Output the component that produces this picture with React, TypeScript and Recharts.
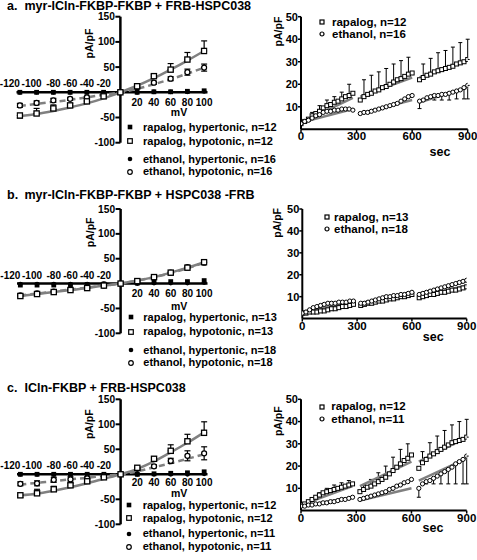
import React from "react";
import {
  ComposedChart,
  Line,
  XAxis,
  YAxis,
  ReferenceLine,
  ReferenceDot,
  ErrorBar,
  Label,
} from "recharts";

const FONT = '"Liberation Sans", Arial, Helvetica, sans-serif';
const BLACK = "#000000";
const GRAY = "#808080";

// ---------- I/V curves (left column) ----------
const MV = [-120, -100, -80, -60, -40, -20, 0, 20, 40, 60, 80, 100];
const MV_NEG_LABELS = [-120, -100, -80, -60, -40, -20];
const MV_POS_LABELS = [20, 40, 60, 80, 100];
const IV_Y_TICKS = [150, 100, 50, -50, -100];
const IV_LEGEND = [
  "rapalog, hypertonic",
  "rapalog, hypotonic",
  "ethanol, hypertonic",
  "ethanol, hypotonic",
];

type Err = number | [number, number] | null;

// panel a
const A_RAP_HYPER = [0, 0, 0, 0, 0, 0, 0, 0, 1, 1, 2, 3];
const A_RAP_HYPO = [-46, -42, -32, -26, -18, -8, 0, 12, 32, 45, 65, 82];
const A_RAP_HYPO_ERR: Err[] = [[5, 0], [0, 10], [0, 7], [0, 4], [0, 2], null, null, null, [0, 3], [0, 12], [0, 14], [0, 20]];
const A_ETH_HYPER = [0, 0, 0, 0, 0, 0, 0, 0, 1, 1, 1, 2];
const A_ETH_HYPO = [-26, -21, -16, -13, -10, -5, 0, 10, 19, 27, 40, 49];
const A_ETH_HYPO_ERR: Err[] = [4, 4, 4, 3, 2, null, null, 2, 3, 4, 6, 7];
const A_FIT_RAP = [-47, -43, -37, -30, -22, -12, 0, 13, 28, 45, 63, 82];
const A_FIT_ETH = [-27, -23, -19, -15, -10, -5, 0, 7, 16, 26, 37, 49];
const A_N = [12, 12, 16, 16];

// panel b
const B_RAP_HYPER = [-3, -3, -3, -3, -2, -1, 0, 1, 3, 4, 4, 6];
const B_RAP_HYPO = [-25, -21, -17, -13, -9, -4, 0, 5, 13, 22, 32, 43];
const B_RAP_HYPO_ERR: Err[] = [null, null, null, null, null, null, null, null, null, null, null, [0, 3]];
const B_ETH_HYPER = [-1, -1, -1, -1, -1, 0, 0, 0, 1, 1, 1, 2];
const B_ETH_HYPO = [-24, -20, -16, -12, -8, -4, 0, 5, 13, 22, 33, 42];
const B_ETH_HYPO_ERR: Err[] = [null, null, null, null, null, null, null, null, null, null, null, null];
const B_FIT_RAP = [-25, -21, -17, -13, -9, -4, 0, 6, 13, 22, 32, 43];
const B_FIT_ETH = [-24, -20, -16, -12, -8, -4, 0, 6, 13, 21, 31, 42];
const B_N = [13, 13, 18, 18];

// panel c
const C_RAP_HYPER = [0, 0, 0, 0, 0, 0, 0, 0, 1, 2, 3, 5];
const C_RAP_HYPO = [-42, -38, -30, -22, -14, -6, 0, 13, 31, 47, 66, 83];
const C_RAP_HYPO_ERR: Err[] = [[4, 0], [0, 8], [0, 6], [0, 4], [0, 2], null, null, null, [0, 4], [0, 12], [0, 14], [0, 22]];
const C_ETH_HYPER = [0, 0, 0, 0, 0, 0, 0, 0, 0, 0, 0, 1];
const C_ETH_HYPO = [-19, -18, -11, -10, -8, -4, 0, 11, 16, 27, 37, 42];
const C_ETH_HYPO_ERR: Err[] = [4, 5, 5, 5, 3, null, null, 2, 3, 5, 10, 13];
const C_FIT_RAP = [-42, -39, -33, -26, -18, -9, 0, 11, 26, 44, 63, 84];
const C_FIT_ETH = [-21, -17, -14, -10, -7, -3, 0, 6, 14, 22, 31, 40];
const C_N = [12, 12, 11, 11];

// ---------- time courses (right column) ----------
const SEC = [
  0, 20, 40, 60, 80, 100, 120, 140, 160, 180, 200, 220, 240, 260, 280,
  320, 340, 360, 380, 400, 420, 440, 460, 480, 500, 520, 540, 560, 580, 600,
  640, 660, 680, 700, 720, 740, 760, 780, 800, 820, 840, 860, 880, 900,
];
const SEG_BOUNDS = [[0, 14], [15, 29], [30, 43]];
const SEC_TICKS = [0, 300, 600, 900];
const PA_TICKS = [10, 20, 30, 40, 50];

const A_RAP_T = [
  2.5, 3.5, 4.5, 6, 7, 8, 9.5, 10.5, 11, 12, 12.5, 13.5, 14.5, 15, 16,
  13, 14.5, 15.5, 16, 17, 17.5, 18.5, 19, 20, 21, 22, 22.5, 23.5, 24.5, 25,
  22, 23, 24, 24.5, 25.5, 26, 26.5, 27, 27.5, 28, 29, 29.5, 30, 31,
];
const A_RAP_T_ERR = [
  null, null, null, 1.5, null, 2.5, null, 2.5, null, 2.5, null, 3, null, 5, null,
  null, 7.5, null, 8, null, 8, null, 8, null, 8, null, 8, null, 7.5, null,
  null, 6, null, 7, null, 8, null, 8, null, 8.5, null, 9, null, 9,
];
const A_ETH_T = [
  2.5, 3.5, 4, 5, 6, 6.5, 7.5, 8, 8, 8.5, 8.5, 9, 9, 9, 8.5,
  7, 7.5, 7.5, 8, 8.5, 9, 9.5, 10, 10.5, 11, 11.5, 12.5, 13.5, 14.5, 15,
  12.5, 13, 14, 14.5, 15, 15, 15.5, 15.5, 16, 16.5, 17, 17.5, 18.5, 19.5,
];
const A_ETH_T_ERR = [
  null, null, null, null, null, null, null, null, null, null, null, null, null, null, null,
  null, null, null, null, null, null, null, null, null, null, null, null, null, null, null,
  3.3, null, 1, null, 2, null, 2.5, null, 3, null, 3.5, null, 5, 6,
];
const A_FIT_RAP_T = [[3, 14], [14.5, 23], [23, 30.5]];
const A_FIT_ETH_T = [[3, 9], [7, 13], [12, 18.5]];

const B_RAP_T = [
  2.5, 2.5, 3, 3, 3, 3.5, 3.5, 4, 4.5, 4.5, 5, 5.5, 5.5, 6, 6.5,
  6, 6.5, 7, 7, 7.5, 8, 8, 8.5, 9, 9, 9.5, 10, 10, 10.5, 11,
  9.5, 10, 10.5, 11, 11, 11.5, 12, 12, 12.5, 13, 13, 13.5, 14, 14.5,
];
const B_ETH_T = [
  2.5, 3, 4, 5, 5.5, 6, 6.5, 7, 7, 7, 7.5, 7.5, 7.5, 8, 8,
  7, 7, 7.5, 8, 8.5, 9, 9.5, 10, 10, 10.5, 10.5, 11, 11, 11.5, 12,
  11, 11.5, 12, 12.5, 13, 13.5, 14, 14.5, 15, 15.5, 16, 16.5, 17, 17.5,
];
const B_FIT_RAP_T = [[2.5, 6.5], [6.5, 11], [10, 15]];
const B_FIT_ETH_T = [[3, 8], [7, 12], [11.5, 17]];

const C_RAP_T = [
  2.5, 3, 4, 5, 6, 7, 8, 8.5, 9, 9.5, 10, 10.5, 11, 11.5, 12,
  8.5, 9.5, 10.5, 11, 12, 13, 14, 15, 16.5, 18, 19.5, 21, 22.5, 23.5, 25,
  19, 21.5, 23, 24.5, 25.5, 26.5, 27.5, 28.5, 29.5, 30.5, 31, 31.5, 32, 33,
];
const C_RAP_T_ERR = [
  null, null, null, 0.5, null, 1, null, 1.5, null, 2, null, 2, null, 2, null,
  null, 2, null, 3, null, 4, null, 5, null, 6, null, 6.5, null, 6.5, null,
  null, 5, null, 6, null, 7, null, 7.5, null, 8, null, 8.5, null, 8,
];
const C_ETH_T = [
  2, 2, 2.5, 2.5, 3, 3, 3.5, 3.5, 4, 4, 4.5, 5, 5, 5.5, 6,
  5, 5.5, 6, 6.5, 7, 7.5, 8, 8.5, 9.5, 10, 11, 11.5, 12.5, 13, 14,
  10, 12, 13, 13.5, 14.5, 15.5, 16.5, 17.5, 18.5, 19.5, 21, 22, 23, 24.5,
];
const C_ETH_T_ERR = [
  null, null, null, null, null, null, null, null, null, null, null, null, null, null, null,
  null, null, null, null, null, null, null, null, null, null, null, null, null, null, null,
  4, null, 1, null, 2.5, null, 4.5, null, 6.5, null, 9, null, 11, 12.5,
];
const C_FIT_RAP_T = [[2.5, 11], [11, 22], [22, 33]];
const C_FIT_ETH_T = [[2, 6], [4.5, 10], [13.5, 23.5]];

// ---------- marker renderers ----------
type Kind = "sq" | "osq" | "ci" | "oci";

const makeDot = (kind: Kind, size: number, sw: number) => (p: any) => {
  const key = p.key ?? `d-${p.index}`;
  if (p.value == null || p.cx == null || p.cy == null) return <g key={key} />;
  const h = size / 2;
  if (kind === "sq")
    return <rect key={key} x={p.cx - h} y={p.cy - h} width={size} height={size} fill={BLACK} />;
  if (kind === "osq")
    return (
      <rect key={key} x={p.cx - h} y={p.cy - h} width={size} height={size} fill="#fff" stroke={BLACK} strokeWidth={sw} />
    );
  if (kind === "ci") return <circle key={key} cx={p.cx} cy={p.cy} r={h} fill={BLACK} />;
  return <circle key={key} cx={p.cx} cy={p.cy} r={h} fill="#fff" stroke={BLACK} strokeWidth={sw} />;
};

const LegendMarker = ({ kind, size }: { kind: Kind; size: number }) => {
  const h = size / 2;
  return (
    <svg width={10} height={10} style={{ display: "block" }}>
      {kind === "sq" && <rect x={5 - h} y={5 - h} width={size} height={size} fill={BLACK} />}
      {kind === "osq" && (
        <rect x={5 - h} y={5 - h} width={size} height={size} fill="#fff" stroke={BLACK} strokeWidth={1.2} />
      )}
      {kind === "ci" && <circle cx={5} cy={5} r={h} fill={BLACK} />}
      {kind === "oci" && <circle cx={5} cy={5} r={h} fill="#fff" stroke={BLACK} strokeWidth={1.2} />}
    </svg>
  );
};

const Title = ({ top, letter, text }: { top: number; letter: string; text: string }) => (
  <div style={{ position: "absolute", top, left: 0, height: 11, lineHeight: "11px", fontSize: 12.5, fontWeight: 700 }}>
    <span style={{ position: "absolute", left: 7, whiteSpace: "nowrap" }}>{letter}</span>
    <span style={{ position: "absolute", left: 24.5, whiteSpace: "nowrap" }}>{text}</span>
  </div>
);

const LegendRows = ({
  rows,
  markerX,
  textX,
  fontSize,
  size,
}: {
  rows: { y: number; kind: Kind; text: string }[];
  markerX: number;
  textX: number;
  fontSize: number;
  size: number;
}) => (
  <>
    {rows.map((r, i) => (
      <React.Fragment key={i}>
        <div style={{ position: "absolute", left: markerX - 5, top: r.y - 5 }}>
          <LegendMarker kind={r.kind} size={size} />
        </div>
        <div
          style={{
            position: "absolute",
            left: textX,
            top: r.y - 5.5,
            height: 11,
            lineHeight: "11px",
            fontSize,
            fontWeight: 700,
            whiteSpace: "nowrap",
          }}
        >
          {r.text}
        </div>
      </React.Fragment>
    ))}
  </>
);

// ---------- I/V chart ----------
const X_LABEL_SHIFT: Record<string, number> = { "-120": -10, "-100": -5 };

const ivText = (x: number, y: number, s: string, anchor: string, size = 10) => (
  <text
    x={x}
    y={y}
    textAnchor={anchor}
    dominantBaseline="central"
    fontSize={size}
    fontWeight={700}
    fontFamily={FONT}
    fill={BLACK}
  >
    {s}
  </text>
);

type IVProps = {
  top: number;
  height: number;
  marginTop: number;
  marginBottom: number;
  marginLeft: number;
  rapHyper: number[];
  rapHypo: number[];
  rapHypoErr: Err[];
  ethHyper: number[];
  ethHypo: number[];
  ethHypoErr: Err[];
  fitRap: number[];
  fitEth: number[];
  yLabelDy: number;
  yLabelDx: number;
  mvDy: number;
  posDy: number;
};

const IVChart = (p: IVProps) => {
  const rows = MV.map((mv, i) => ({
    mv,
    rapHyper: p.rapHyper[i],
    rapHypo: p.rapHypo[i],
    rapHypoErr: p.rapHypoErr[i],
    ethHyper: p.ethHyper[i],
    ethHypo: p.ethHypo[i],
    ethHypoErr: p.ethHypoErr[i],
    fitRap: p.fitRap[i],
    fitEth: p.fitEth[i],
  }));
  return (
    <div style={{ position: "absolute", left: 0, top: p.top, width: 240, height: p.height }}>
      <ComposedChart
        width={240}
        height={p.height}
        data={rows}
        margin={{ top: p.marginTop, bottom: p.marginBottom, left: p.marginLeft, right: 32.5 }}
      >
        <XAxis dataKey="mv" type="number" domain={[-124, 104]} hide allowDataOverflow />
        <YAxis type="number" domain={[-100, 150]} hide allowDataOverflow />
        <ReferenceLine y={0} stroke={BLACK} strokeWidth={2.5} />
        <ReferenceLine x={0} stroke={BLACK} strokeWidth={2.5} />
        {IV_Y_TICKS.map((v) => (
          <ReferenceDot
            key={`yt${v}`}
            x={0}
            y={v}
            r={0}
            ifOverflow="visible"
            shape={(d: any) => (
              <g>
                <line x1={d.cx - 5} x2={d.cx} y1={d.cy} y2={d.cy} stroke={BLACK} strokeWidth={2} />
                {ivText(d.cx - 5.5, d.cy, String(v), "end", 10.2)}
              </g>
            )}
          />
        ))}
        {MV_NEG_LABELS.map((v) => (
          <ReferenceDot
            key={`xn${v}`}
            x={v}
            y={0}
            r={0}
            ifOverflow="visible"
            shape={(d: any) => ivText(d.cx + (X_LABEL_SHIFT[String(v)] || 0), d.cy - 8.5, String(v), "middle")}
          />
        ))}
        {MV_POS_LABELS.map((v) => (
          <ReferenceDot
            key={`xp${v}`}
            x={v}
            y={0}
            r={0}
            ifOverflow="visible"
            shape={(d: any) => ivText(d.cx, d.cy + p.posDy, String(v), "middle")}
          />
        ))}
        <ReferenceDot
          x={70}
          y={0}
          r={0}
          ifOverflow="visible"
          shape={(d: any) => ivText(d.cx, d.cy + p.mvDy, "mV", "middle", 10.5)}
        />
        <ReferenceDot
          x={0}
          y={150}
          r={0}
          ifOverflow="visible"
          shape={(d: any) => (
            <text
              transform={`translate(${d.cx + p.yLabelDx},${d.cy + p.yLabelDy}) rotate(-90)`}
              textAnchor="end"
              dominantBaseline="central"
              fontSize={10.5}
              fontWeight={700}
              fontFamily={FONT}
              fill={BLACK}
            >
              pA/pF
            </text>
          )}
        />
        <Line dataKey="fitRap" type="monotone" stroke={GRAY} strokeWidth={2.5} dot={false} isAnimationActive={false} />
        <Line
          dataKey="fitEth"
          type="monotone"
          stroke={GRAY}
          strokeWidth={2.5}
          strokeDasharray="6 4"
          dot={false}
          isAnimationActive={false}
        />
        <Line dataKey="rapHyper" stroke="none" dot={makeDot("sq", 4.8, 1)} isAnimationActive={false} />
        <Line dataKey="ethHyper" stroke="none" dot={makeDot("ci", 4.8, 1)} isAnimationActive={false} />
        <Line dataKey="ethHypo" stroke="none" dot={makeDot("oci", 5, 1.3)} isAnimationActive={false}>
          <ErrorBar dataKey="ethHypoErr" width={3} stroke={BLACK} strokeWidth={1.2} direction="y" />
        </Line>
        <Line dataKey="rapHypo" stroke="none" dot={makeDot("osq", 5.2, 1.3)} isAnimationActive={false}>
          <ErrorBar dataKey="rapHypoErr" width={3} stroke={BLACK} strokeWidth={1.2} direction="y" />
        </Line>
      </ComposedChart>
    </div>
  );
};

// ---------- time-course chart ----------
type TimeProps = {
  top: number;
  height: number;
  marginTop: number;
  marginBottom: number;
  marginLeft: number;
  marginRight: number;
  rap: number[];
  eth: number[];
  rapErr?: (number | null)[];
  ethErr?: (number | null)[];
  fitRap: number[][];
  fitEth: number[][];
  secDx: number;
  secDy: number;
  yLabelDx: number;
  yLabelDy: number;
};

const TimeChart = (p: TimeProps) => {
  const rows = SEC.map((sec, i) => {
    const row: any = {
      sec,
      rap: p.rap[i],
      eth: p.eth[i],
      rapErr: p.rapErr && p.rapErr[i] != null ? [0, p.rapErr[i]] : null,
      ethErr: p.ethErr && p.ethErr[i] != null ? [p.ethErr[i], 0] : null,
    };
    SEG_BOUNDS.forEach(([s, e], k) => {
      row[`fr${k}`] = i === s ? p.fitRap[k][0] : i === e ? p.fitRap[k][1] : null;
      row[`fe${k}`] = i === s ? p.fitEth[k][0] : i === e ? p.fitEth[k][1] : null;
    });
    return row;
  });
  const tickStyle = { fontWeight: 700, fill: BLACK, fontFamily: FONT };
  return (
    <div style={{ position: "absolute", left: 240, top: p.top, width: 237, height: p.height }}>
      <ComposedChart
        width={237}
        height={p.height}
        data={rows}
        margin={{ top: p.marginTop, bottom: p.marginBottom, left: p.marginLeft, right: p.marginRight }}
      >
        <XAxis
          dataKey="sec"
          type="number"
          domain={[0, 900]}
          ticks={SEC_TICKS}
          interval={0}
          height={30}
          tickSize={3}
          tickMargin={0}
          tick={{ ...tickStyle, fontSize: 11.5 }}
          axisLine={{ stroke: BLACK, strokeWidth: 2 }}
          tickLine={{ stroke: BLACK, strokeWidth: 1.5 }}
          allowDataOverflow
        >
          <Label
            content={(lp: any) => {
              const vb = lp.viewBox;
              return (
                <text
                  x={vb.x + p.secDx}
                  y={vb.y + p.secDy}
                  textAnchor="middle"
                  dominantBaseline="central"
                  fontSize={12.5}
                  fontWeight={700}
                  fontFamily={FONT}
                  fill={BLACK}
                >
                  sec
                </text>
              );
            }}
          />
        </XAxis>
        <YAxis
          type="number"
          domain={[0, 50]}
          ticks={PA_TICKS}
          interval={0}
          width={30}
          tickSize={3}
          tickMargin={0}
          tick={{ ...tickStyle, fontSize: 11 }}
          axisLine={{ stroke: BLACK, strokeWidth: 2 }}
          tickLine={{ stroke: BLACK, strokeWidth: 1.5 }}
          allowDataOverflow
        >
          <Label
            content={(lp: any) => {
              const vb = lp.viewBox;
              const x = vb.x + vb.width + p.yLabelDx;
              const y = vb.y + p.yLabelDy;
              return (
                <text
                  transform={`translate(${x},${y}) rotate(-90)`}
                  textAnchor="end"
                  dominantBaseline="central"
                  fontSize={10.5}
                  fontWeight={700}
                  fontFamily={FONT}
                  fill={BLACK}
                >
                  pA/pF
                </text>
              );
            }}
          />
        </YAxis>
        <Line dataKey="rap" stroke="none" dot={makeDot("osq", 4, 1)} isAnimationActive={false}>
          {p.rapErr && <ErrorBar dataKey="rapErr" width={2} stroke={BLACK} strokeWidth={1} direction="y" />}
        </Line>
        <Line dataKey="eth" stroke="none" dot={makeDot("oci", 4.2, 1)} isAnimationActive={false}>
          {p.ethErr && <ErrorBar dataKey="ethErr" width={2} stroke={BLACK} strokeWidth={1} direction="y" />}
        </Line>
        {SEG_BOUNDS.map((_, k) => (
          <Line
            key={`fr${k}`}
            dataKey={`fr${k}`}
            connectNulls
            stroke={GRAY}
            strokeWidth={2.5}
            dot={false}
            isAnimationActive={false}
          />
        ))}
        {SEG_BOUNDS.map((_, k) => (
          <Line
            key={`fe${k}`}
            dataKey={`fe${k}`}
            connectNulls
            stroke={GRAY}
            strokeWidth={2.5}
            dot={false}
            isAnimationActive={false}
          />
        ))}
      </ComposedChart>
    </div>
  );
};

const ivLegendRows = (ys: number[], n: number[]) =>
  IV_LEGEND.map((t, i) => ({
    y: ys[i],
    kind: (["sq", "osq", "ci", "oci"] as Kind[])[i],
    text: `${t}, n=${n[i]}`,
  }));

export default function App() {
  return (
    <div
      style={{
        position: "absolute",
        left: 0,
        top: 0,
        width: 477,
        height: 560,
        background: "#fff",
        fontFamily: FONT,
        color: BLACK,
        overflow: "hidden",
      }}
    >
      {/* panel a */}
      <Title top={0.5} letter="a." text="myr-ICln-FKBP-FKBP + FRB-HSPC038" />
      <IVChart
        top={0}
        height={190}
        marginTop={16.7}
        marginBottom={47.3}
        marginLeft={16.5}
        rapHyper={A_RAP_HYPER}
        rapHypo={A_RAP_HYPO}
        rapHypoErr={A_RAP_HYPO_ERR}
        ethHyper={A_ETH_HYPER}
        ethHypo={A_ETH_HYPO}
        ethHypoErr={A_ETH_HYPO_ERR}
        fitRap={A_FIT_RAP}
        fitEth={A_FIT_ETH}
        yLabelDx={-31}
        yLabelDy={12}
        mvDy={20}
        posDy={9.8}
      />
      <LegendRows
        rows={ivLegendRows([127.3, 141.3, 159.3, 171.7], A_N)}
        markerX={130}
        textX={143}
        fontSize={11}
        size={4.6}
      />
      <TimeChart
        top={0}
        height={190}
        marginTop={16.7}
        marginBottom={30.7}
        marginLeft={31}
        marginRight={9.3}
        rap={A_RAP_T}
        eth={A_ETH_T}
        rapErr={A_RAP_T_ERR}
        ethErr={A_ETH_T_ERR}
        fitRap={A_FIT_RAP_T}
        fitEth={A_FIT_ETH_T}
        secDx={139}
        secDy={22.4}
        yLabelDx={-23}
        yLabelDy={0}
      />
      <LegendRows
        rows={[
          { y: 22, kind: "osq", text: "rapalog, n=12" },
          { y: 34, kind: "oci", text: "ethanol, n=16" },
        ]}
        markerX={322}
        textX={332}
        fontSize={11.5}
        size={4}
      />

      {/* panel b */}
      <Title top={190} letter="b." text="myr-ICln-FKBP-FKBP + HSPC038 -FRB" />
      <IVChart
        top={190}
        height={190}
        marginTop={19}
        marginBottom={46.7}
        marginLeft={17}
        rapHyper={B_RAP_HYPER}
        rapHypo={B_RAP_HYPO}
        rapHypoErr={B_RAP_HYPO_ERR}
        ethHyper={B_ETH_HYPER}
        ethHypo={B_ETH_HYPO}
        ethHypoErr={B_ETH_HYPO_ERR}
        fitRap={B_FIT_RAP}
        fitEth={B_FIT_ETH}
        yLabelDx={-31}
        yLabelDy={8.5}
        mvDy={22}
        posDy={9.8}
      />
      <LegendRows
        rows={ivLegendRows([317.3, 331.7, 350, 362.7], B_N)}
        markerX={131}
        textX={143.3}
        fontSize={11}
        size={4.6}
      />
      <TimeChart
        top={190}
        height={185}
        marginTop={19}
        marginBottom={26.4}
        marginLeft={32.3}
        marginRight={10.3}
        rap={B_RAP_T}
        eth={B_ETH_T}
        fitRap={B_FIT_RAP_T}
        fitEth={B_FIT_ETH_T}
        secDx={131}
        secDy={18.1}
        yLabelDx={-25.5}
        yLabelDy={-1}
      />
      <LegendRows
        rows={[
          { y: 217.3, kind: "osq", text: "rapalog, n=13" },
          { y: 229.3, kind: "oci", text: "ethanol, n=18" },
        ]}
        markerX={327}
        textX={334}
        fontSize={11.5}
        size={4}
      />

      {/* panel c */}
      <Title top={382.5} letter="c." text="ICln-FKBP + FRB-HSPC038" />
      <IVChart
        top={375}
        height={185}
        marginTop={24.3}
        marginBottom={35.7}
        marginLeft={17}
        rapHyper={C_RAP_HYPER}
        rapHypo={C_RAP_HYPO}
        rapHypoErr={C_RAP_HYPO_ERR}
        ethHyper={C_ETH_HYPER}
        ethHypo={C_ETH_HYPO}
        ethHypoErr={C_ETH_HYPO_ERR}
        fitRap={C_FIT_RAP}
        fitEth={C_FIT_ETH}
        yLabelDx={-32}
        yLabelDy={10}
        mvDy={18.8}
        posDy={8.2}
      />
      <LegendRows
        rows={ivLegendRows([505, 518, 533.5, 546.5], C_N)}
        markerX={129.3}
        textX={142.7}
        fontSize={11}
        size={4.6}
      />
      <TimeChart
        top={375}
        height={185}
        marginTop={24.3}
        marginBottom={19.4}
        marginLeft={31}
        marginRight={10.3}
        rap={C_RAP_T}
        eth={C_ETH_T}
        rapErr={C_RAP_T_ERR}
        ethErr={C_ETH_T_ERR}
        fitRap={C_FIT_RAP_T}
        fitEth={C_FIT_ETH_T}
        secDx={132}
        secDy={17.7}
        yLabelDx={-22.7}
        yLabelDy={7}
      />
      <LegendRows
        rows={[
          { y: 406.7, kind: "osq", text: "rapalog, n=12" },
          { y: 419, kind: "oci", text: "ethanol, n=11" },
        ]}
        markerX={322}
        textX={331.3}
        fontSize={11.5}
        size={4}
      />
    </div>
  );
}
